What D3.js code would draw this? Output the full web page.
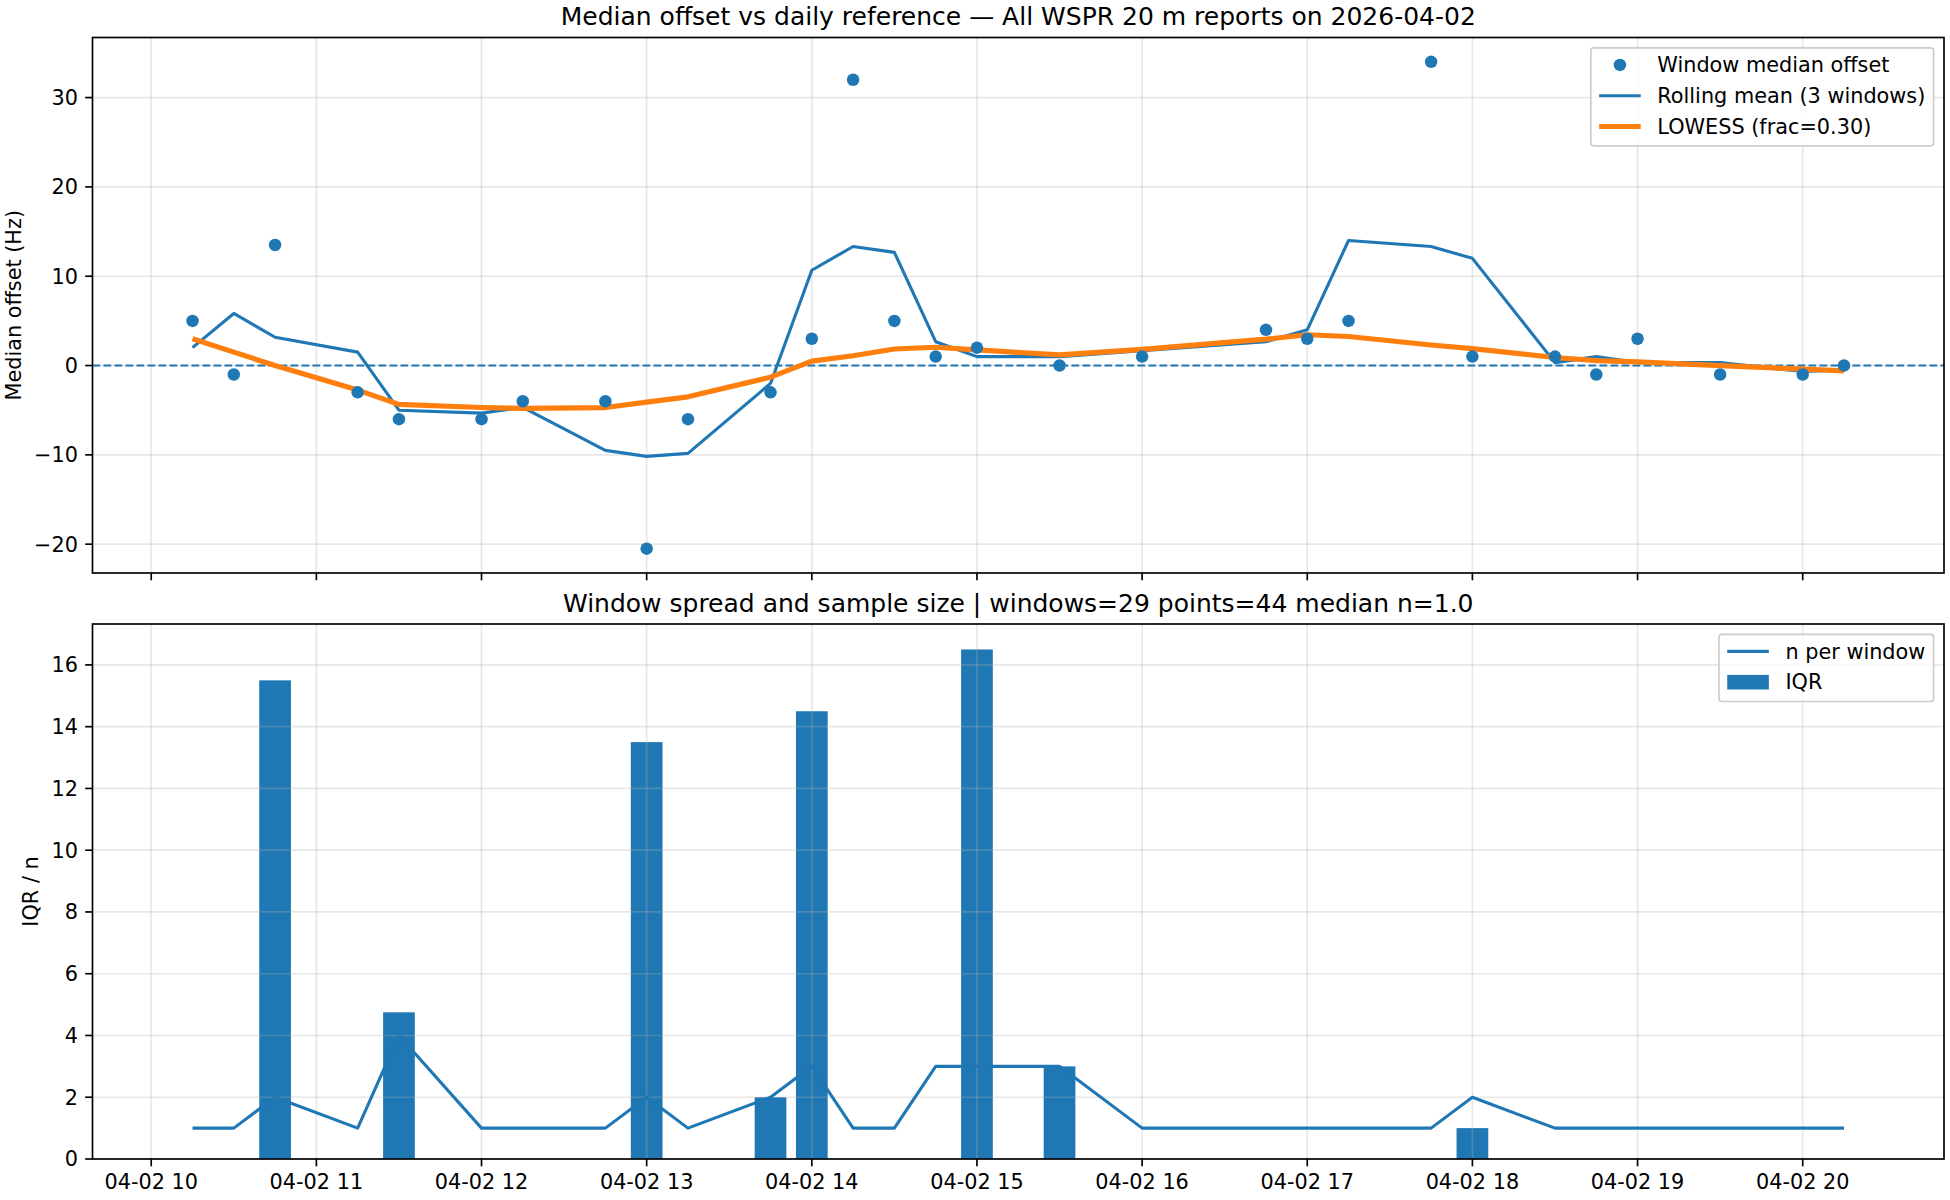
<!DOCTYPE html>
<html>
<head>
<meta charset="utf-8">
<script src="https://cdn.jsdelivr.net/npm/d3@7"></script>
<style>
  body { margin: 0; background: #fff; }
  text { font-family: "DejaVu Sans", sans-serif; fill: #000; }
</style>
</head>
<body>
<div id="chart"></div>
<script>
// window data for 2026-04-02, one entry per window
const day = "2026-04-02";
const windowTimes = ["10:15", "10:30", "10:45", "11:15", "11:30", "12:00", "12:15", "12:45", "13:00", "13:15",
  "13:45", "14:00", "14:15", "14:30", "14:45", "15:00", "15:30", "16:00", "16:45", "17:00",
  "17:15", "17:45", "18:00", "18:30", "18:45", "19:00", "19:30", "20:00", "20:15"];
const medianOffset = [5, -1, 13.5, -3, -6, -6, -4, -4, -20.5, -6,
  -3, 3, 32, 5, 1, 2, 0, 1, 4, 3,
  5, 34, 1, 1, -1, 3, -1, -1, 0];
const rollingMean = [2, 5.83, 3.17, 1.5, -5, -5.33, -4.67, -9.5, -10.17, -9.83,
  -2, 10.67, 13.33, 12.67, 2.67, 1, 1, 1.67, 2.67, 4,
  14, 13.33, 12, 0.33, 1, 0.33, 0.33, -0.67, -0.5];
const lowess = [3.0, 1.5, 0.0, -2.75, -4.35, -4.7, -4.8, -4.7, -4.1, -3.5,
  -1.3, 0.5, 1.1, 1.85, 2.05, 1.75, 1.2, 1.8, 2.95, 3.45,
  3.25, 2.3, 1.9, 0.9, 0.55, 0.4, 0.0, -0.4, -0.6];
const nPerWindow = [1, 1, 2, 1, 4, 1, 1, 1, 2, 1,
  2, 3, 1, 1, 3, 3, 3, 1, 1, 1,
  1, 1, 2, 1, 1, 1, 1, 1, 1];
const iqr = [0, 0, 15.5, 0, 4.75, 0, 0, 0, 13.5, 0,
  2, 14.5, 0, 0, 0, 16.5, 3, 0, 0, 0,
  0, 0, 1, 0, 0, 0, 0, 0, 0];

const topTitle = "Median offset vs daily reference \u2014 All WSPR 20 m reports on 2026-04-02";
const bottomTitle = "Window spread and sample size | windows=29 points=44 median n=1.0";
const topLegend = ["Window median offset", "Rolling mean (3 windows)", "LOWESS (frac=0.30)"];
const bottomLegend = ["n per window", "IQR"];

const BLUE = "#1f77b4", ORANGE = "#ff7f0e";
const width = 1950, height = 1200;
const left = 92.5, right = 1944;
const topBox = { y0: 37.5, y1: 573 };
const botBox = { y0: 624, y1: 1159 };
const fs = 20.8;
const tickLen = 7.3;

const parse = d3.timeParse("%Y-%m-%d %H:%M");
const rows = windowTimes.map((t, i) => ({
  t: parse(day + " " + t),
  med: medianOffset[i],
  roll: rollingMean[i],
  lo: lowess[i],
  n: nPerWindow[i],
  iqr: iqr[i]
}));

const svg = d3.select("#chart").append("svg")
  .attr("width", width)
  .attr("height", height);

svg.append("rect").attr("width", width).attr("height", height).attr("fill", "white");

// x: bars are 0.008 day wide, plus matplotlib's 5% margin
const halfBar = 0.004 * 86400000;
const tMin = d3.min(rows, d => d.t).getTime() - halfBar;
const tMax = d3.max(rows, d => d.t).getTime() + halfBar;
const xPad = (tMax - tMin) * 0.05;
const x = d3.scaleTime()
  .domain([new Date(tMin - xPad), new Date(tMax + xPad)])
  .range([left, right]);
const xTicks = x.ticks(d3.timeHour.every(1));

const allTop = rows.flatMap(d => [d.med, d.roll, d.lo]);
const [yMinT, yMaxT] = d3.extent(allTop);
const padT = (yMaxT - yMinT) * 0.05;
const yTop = d3.scaleLinear().domain([yMinT - padT, yMaxT + padT]).range([topBox.y1, topBox.y0]);
const yBot = d3.scaleLinear()
  .domain([0, d3.max(rows, d => Math.max(d.iqr, d.n)) * 1.05])
  .range([botBox.y1, botBox.y0]);

function drawGrid(g, y, box, yTicks) {
  const grid = g.append("g").attr("class", "grid")
    .attr("stroke", "#b0b0b0").attr("stroke-opacity", 0.3).attr("stroke-width", 1.67);
  grid.selectAll("line.v").data(xTicks).join("line")
    .attr("class", "v")
    .attr("x1", d => x(d)).attr("x2", d => x(d))
    .attr("y1", box.y0).attr("y2", box.y1);
  grid.selectAll("line.h").data(yTicks).join("line")
    .attr("class", "h")
    .attr("x1", left).attr("x2", right)
    .attr("y1", d => y(d)).attr("y2", d => y(d));
}

function drawFrame(g, y, box, yTicks, showXLabels) {
  const ax = g.append("g").attr("class", "frame");
  ax.append("rect")
    .attr("x", left).attr("y", box.y0)
    .attr("width", right - left).attr("height", box.y1 - box.y0)
    .attr("fill", "none").attr("stroke", "#000").attr("stroke-width", 1.67);

  ax.selectAll("line.xt").data(xTicks).join("line")
    .attr("class", "xt")
    .attr("x1", d => x(d)).attr("x2", d => x(d))
    .attr("y1", box.y1).attr("y2", box.y1 + tickLen)
    .attr("stroke", "#000").attr("stroke-width", 1.67);

  if (showXLabels) {
    const fmt = d3.timeFormat("%m-%d %H");
    ax.selectAll("text.xl").data(xTicks).join("text")
      .attr("class", "xl")
      .attr("x", d => x(d)).attr("y", box.y1 + 29.5)
      .attr("text-anchor", "middle")
      .attr("font-size", fs)
      .text(d => fmt(d));
  }

  ax.selectAll("line.yt").data(yTicks).join("line")
    .attr("class", "yt")
    .attr("x1", left - tickLen).attr("x2", left)
    .attr("y1", d => y(d)).attr("y2", d => y(d))
    .attr("stroke", "#000").attr("stroke-width", 1.67);

  ax.selectAll("text.yl").data(yTicks).join("text")
    .attr("class", "yl")
    .attr("x", left - 2 * tickLen).attr("y", d => y(d))
    .attr("dy", "0.36em")
    .attr("text-anchor", "end")
    .attr("font-size", fs)
    .text(d => d3.format("d")(d));
}

function drawTitle(text, box) {
  svg.append("text")
    .attr("x", (left + right) / 2).attr("y", box.y0 - 12.5)
    .attr("text-anchor", "middle")
    .attr("font-size", 25)
    .text(text);
}

function drawYLabel(text, box, xPos) {
  svg.append("text")
    .attr("transform", `translate(${xPos},${(box.y0 + box.y1) / 2}) rotate(-90)`)
    .attr("text-anchor", "middle")
    .attr("font-size", fs)
    .text(text);
}

// legend: items = [{label, kind, color, width}]
function drawLegend(items, box) {
  const lg = svg.append("g").attr("class", "legend");
  const frame = lg.append("rect");
  const labels = lg.selectAll("text").data(items).join("text")
    .attr("font-size", fs)
    .attr("dy", "0.35em")
    .text(d => d.label);
  let textW = 0;
  labels.each(function () { textW = Math.max(textW, this.getComputedTextLength()); });

  const boxRight = right - 10.4;
  const boxLeft = boxRight - (8.3 + 41.6 + 16.6 + textW + 8.3);
  const boxTop = box.y0 + 10.4;
  const rowY = i => boxTop + 17 + i * 30.8;
  const boxBottom = rowY(items.length - 1) + 19.3;

  frame.attr("x", boxLeft).attr("y", boxTop)
    .attr("width", boxRight - boxLeft).attr("height", boxBottom - boxTop)
    .attr("rx", 3).attr("ry", 3)
    .attr("fill", "white").attr("fill-opacity", 0.8)
    .attr("stroke", "#cccccc").attr("stroke-width", 1.67);

  const hx0 = boxLeft + 8.3, hx1 = hx0 + 41.6;
  labels.attr("x", hx1 + 16.6).attr("y", (d, i) => rowY(i));

  items.forEach((d, i) => {
    const cy = rowY(i);
    if (d.kind === "dot") {
      lg.append("circle").attr("cx", (hx0 + hx1) / 2).attr("cy", cy).attr("r", 6.25).attr("fill", d.color);
    } else if (d.kind === "line") {
      lg.append("line").attr("x1", hx0).attr("x2", hx1).attr("y1", cy).attr("y2", cy)
        .attr("stroke", d.color).attr("stroke-width", d.width);
    } else {
      lg.append("rect").attr("x", hx0).attr("y", cy - 7.3).attr("width", 41.6).attr("height", 14.6)
        .attr("fill", d.color);
    }
  });
}

// top panel
const topTicks = [-20, -10, 0, 10, 20, 30];
const gTop = svg.append("g");
drawGrid(gTop, yTop, topBox, topTicks);

gTop.append("line")
  .attr("x1", left).attr("x2", right)
  .attr("y1", yTop(0)).attr("y2", yTop(0))
  .attr("stroke", BLUE).attr("stroke-width", 2.08)
  .attr("stroke-dasharray", "7.7,3.3");

const lineRoll = d3.line().x(d => x(d.t)).y(d => yTop(d.roll));
const lineLo = d3.line().x(d => x(d.t)).y(d => yTop(d.lo));

gTop.append("path").datum(rows)
  .attr("d", lineRoll)
  .attr("fill", "none").attr("stroke", BLUE).attr("stroke-width", 3.1)
  .attr("stroke-linejoin", "round");

gTop.append("path").datum(rows)
  .attr("d", lineLo)
  .attr("fill", "none").attr("stroke", ORANGE).attr("stroke-width", 5.2)
  .attr("stroke-linejoin", "round");

gTop.append("g").selectAll("circle").data(rows).join("circle")
  .attr("cx", d => x(d.t)).attr("cy", d => yTop(d.med))
  .attr("r", 6.25).attr("fill", BLUE);

drawFrame(gTop, yTop, topBox, topTicks, false);
drawTitle(topTitle, topBox);
drawYLabel("Median offset (Hz)", topBox, 20.5);
drawLegend([
  { label: topLegend[0], kind: "dot", color: BLUE },
  { label: topLegend[1], kind: "line", color: BLUE, width: 3.1 },
  { label: topLegend[2], kind: "line", color: ORANGE, width: 5.2 }
], topBox);

// bottom panel
const botTicks = d3.range(0, 17, 2);
const gBot = svg.append("g");

gBot.append("g").selectAll("rect").data(rows.filter(d => d.iqr > 0)).join("rect")
  .attr("x", d => x(new Date(d.t.getTime() - halfBar)))
  .attr("width", d => x(new Date(d.t.getTime() + halfBar)) - x(new Date(d.t.getTime() - halfBar)))
  .attr("y", d => yBot(d.iqr))
  .attr("height", d => yBot(0) - yBot(d.iqr))
  .attr("fill", BLUE);

drawGrid(gBot, yBot, botBox, botTicks);

const lineN = d3.line().x(d => x(d.t)).y(d => yBot(d.n));
gBot.append("path").datum(rows)
  .attr("d", lineN)
  .attr("fill", "none").attr("stroke", BLUE).attr("stroke-width", 3.1)
  .attr("stroke-linejoin", "round");

drawFrame(gBot, yBot, botBox, botTicks, true);
drawTitle(bottomTitle, botBox);
drawYLabel("IQR / n", botBox, 38);
drawLegend([
  { label: bottomLegend[0], kind: "line", color: BLUE, width: 3.1 },
  { label: bottomLegend[1], kind: "patch", color: BLUE }
], botBox);
</script>
</body>
</html>
